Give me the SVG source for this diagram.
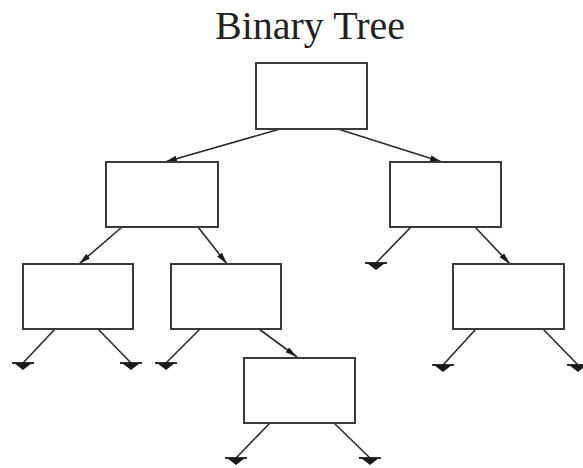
<svg xmlns="http://www.w3.org/2000/svg" xmlns:xlink="http://www.w3.org/1999/xlink" width="583" height="468" viewBox="0 0 583 468">
<style>
.box{fill:#fff;stroke:#3a3a3a;stroke-width:2}
.edge{stroke:#2a2a2a;stroke-width:1.6;fill:none}
.title{font-family:"Liberation Serif","Times New Roman",serif;font-size:40px;fill:#222}
</style>
<defs>
<marker id="arr" viewBox="0 0 12 7" refX="12" refY="3.5" markerWidth="12" markerHeight="7" markerUnits="userSpaceOnUse" orient="auto">
<path d="M0,0.5 L12,3.5 L0,6.5 Z" fill="#1a1a1a"/>
</marker>
<g id="gnd">
<line x1="-11" y1="0" x2="11" y2="0" stroke="#1a1a1a" stroke-width="1.8"/>
<path d="M-9,0 L9,0 L0,7 Z" fill="#1a1a1a"/>
</g>
</defs>
<rect width="583" height="468" fill="#fff"/>
<text class="title" x="310" y="39" text-anchor="middle">Binary Tree</text>
<g id="connectors">
<line class="edge" x1="280" y1="129" x2="165" y2="162" marker-end="url(#arr)"/>
<line class="edge" x1="338" y1="129" x2="442" y2="162" marker-end="url(#arr)"/>
<line class="edge" x1="122" y1="227" x2="79" y2="264" marker-end="url(#arr)"/>
<line class="edge" x1="198" y1="227" x2="227" y2="264" marker-end="url(#arr)"/>
<line class="edge" x1="411" y1="227" x2="376" y2="263"/>
<line class="edge" x1="475" y1="227" x2="510" y2="264" marker-end="url(#arr)"/>
<line class="edge" x1="55" y1="329" x2="23" y2="363"/>
<line class="edge" x1="98" y1="329" x2="131" y2="363"/>
<line class="edge" x1="200" y1="329" x2="166" y2="363"/>
<line class="edge" x1="259" y1="329" x2="297" y2="357" marker-end="url(#arr)"/>
<line class="edge" x1="476" y1="329" x2="443" y2="365"/>
<line class="edge" x1="543" y1="329" x2="578" y2="365"/>
<line class="edge" x1="270" y1="423" x2="236" y2="458"/>
<line class="edge" x1="334" y1="423" x2="370" y2="458"/>
<use xlink:href="#gnd" x="376" y="263"/>
<use xlink:href="#gnd" x="23" y="363"/>
<use xlink:href="#gnd" x="131" y="363"/>
<use xlink:href="#gnd" x="166" y="363"/>
<use xlink:href="#gnd" x="443" y="365"/>
<use xlink:href="#gnd" x="578" y="365"/>
<use xlink:href="#gnd" x="236" y="458"/>
<use xlink:href="#gnd" x="370" y="458"/>
</g>
<g id="root"><rect class="box" x="256" y="63" width="111" height="66"/></g>
<g id="n-left"><rect class="box" x="106" y="162" width="112" height="65"/></g>
<g id="n-right"><rect class="box" x="390" y="162" width="111" height="65"/></g>
<g id="n-ll"><rect class="box" x="23" y="264" width="110" height="65"/></g>
<g id="n-lr"><rect class="box" x="171" y="264" width="110" height="65"/></g>
<g id="n-rr"><rect class="box" x="453" y="264" width="111" height="65"/></g>
<g id="n-lrr"><rect class="box" x="244" y="358" width="111" height="65"/></g>
</svg>
